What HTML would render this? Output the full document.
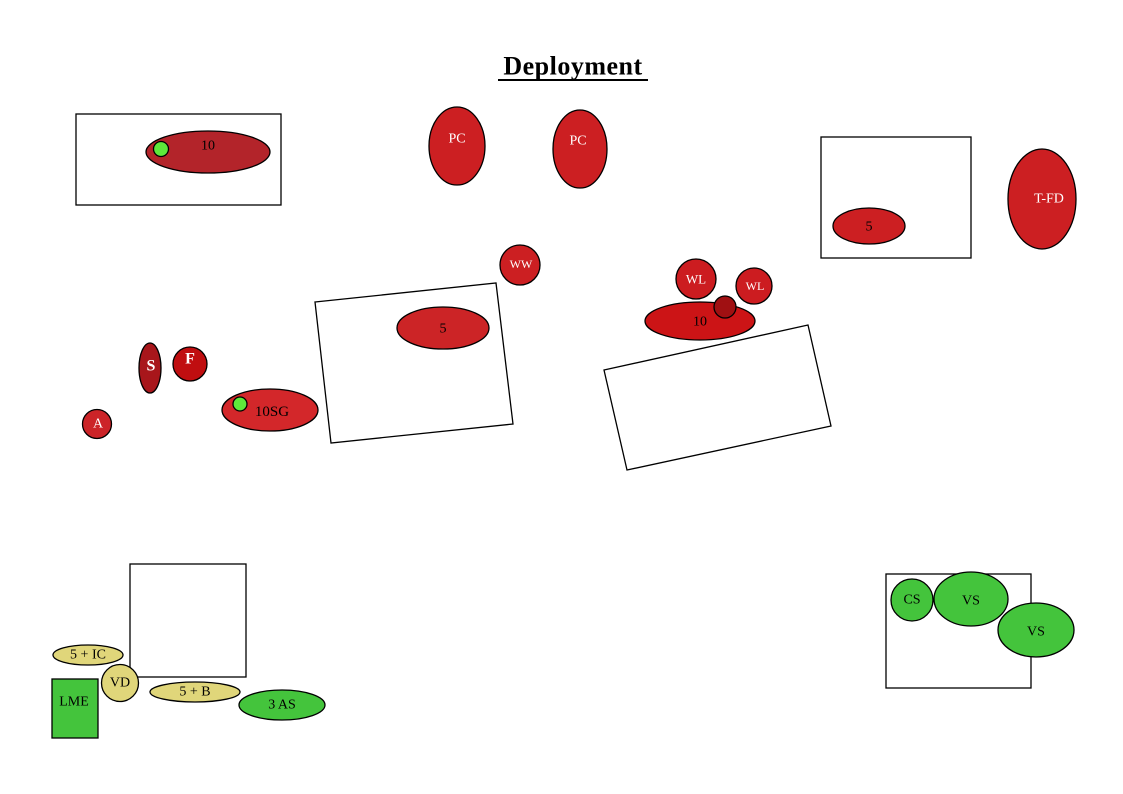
<!DOCTYPE html>
<html><head><meta charset="utf-8"><style>
html,body{margin:0;padding:0;background:#fff}
svg{display:block}
text{font-family:"Liberation Serif",serif;text-anchor:middle;dominant-baseline:central}
</style></head><body>
<svg width="1123" height="794" viewBox="0 0 1123 794" xmlns="http://www.w3.org/2000/svg">
<g stroke="#000" stroke-width="1.3">
<text x="573" y="66" font-size="26" font-weight="bold" stroke="none" fill="#000" letter-spacing="0.5">Deployment</text>
<line x1="498" y1="80" x2="648" y2="80" stroke-width="2"/>
<rect x="76" y="114" width="205" height="91" fill="none"/>
<ellipse cx="208" cy="152" rx="62" ry="21" fill="#b3242a"/>
<circle cx="161" cy="149" r="7.5" fill="#5ee83a"/>
<ellipse cx="457" cy="146" rx="28" ry="39" fill="#cc1f22"/>
<ellipse cx="580" cy="149" rx="27" ry="39" fill="#cc1f22"/>
<rect x="821" y="137" width="150" height="121" fill="none"/>
<ellipse cx="869" cy="226" rx="36" ry="18" fill="#cc1f22"/>
<ellipse cx="1042" cy="199" rx="34" ry="50" fill="#cc1f22"/>
<circle cx="520" cy="265" r="20" fill="#cc1f22"/>
<polygon points="315,302 496,283 513,424 331,443" fill="none"/>
<ellipse cx="443" cy="328" rx="46" ry="21" fill="#cc2426"/>
<ellipse cx="150" cy="368" rx="11" ry="25" fill="#a8161b"/>
<circle cx="190" cy="364" r="17" fill="#c00e10"/>
<circle cx="97" cy="424" r="14.5" fill="#cc2428"/>
<ellipse cx="270" cy="410" rx="48" ry="21" fill="#d3272a"/>
<circle cx="240" cy="404" r="7" fill="#5ee83a"/>
<circle cx="696" cy="279" r="20" fill="#cc1c20"/>
<circle cx="754" cy="286" r="18" fill="#cc1c20"/>
<ellipse cx="700" cy="321" rx="55" ry="19" fill="#cc1416"/>
<circle cx="725" cy="307" r="11" fill="#a01012"/>
<polygon points="604,370 808,325 831,426 627,470" fill="none"/>
<rect x="130" y="564" width="116" height="113" fill="none"/>
<ellipse cx="88" cy="655" rx="35" ry="10" fill="#e0d67a"/>
<circle cx="120" cy="683" r="18.5" fill="#e0d67a"/>
<ellipse cx="195" cy="692" rx="45" ry="10" fill="#e0d67a"/>
<rect x="52" y="679" width="46" height="59" fill="#44c43c"/>
<ellipse cx="282" cy="705" rx="43" ry="15" fill="#44c43c"/>
<rect x="886" y="574" width="145" height="114" fill="none"/>
<circle cx="912" cy="600" r="21" fill="#44c43c"/>
<ellipse cx="971" cy="599" rx="37" ry="27" fill="#44c43c"/>
<ellipse cx="1036" cy="630" rx="38" ry="27" fill="#44c43c"/>
</g>
<g font-size="14" fill="#000">
<text x="208" y="146">10</text>
<text x="869" y="227">5</text>
<text x="443" y="329">5</text>
<text x="700" y="322">10</text>
<text x="88" y="655">5 + IC</text>
<text x="120" y="683">VD</text>
<text x="195" y="692">5 + B</text>
<text x="74" y="702">LME</text>
<text x="282" y="705">3 AS</text>
<text x="912" y="600">CS</text>
<text x="971" y="601">VS</text>
<text x="1036" y="632">VS</text>
<text x="272" y="412" font-size="15">10SG</text>
</g>
<g font-size="14" fill="#fff">
<text x="457" y="139">PC</text>
<text x="578" y="141">PC</text>
<text x="1049" y="199">T-FD</text>
<text x="521" y="264" font-size="12">WW</text>
<text x="696" y="279" font-size="13">WL</text>
<text x="755" y="286" font-size="12">WL</text>
<text x="151" y="366" font-size="16" font-weight="bold">S</text>
<text x="190" y="359" font-size="16" font-weight="bold">F</text>
<text x="98" y="424">A</text>
</g>
</svg>
</body></html>
